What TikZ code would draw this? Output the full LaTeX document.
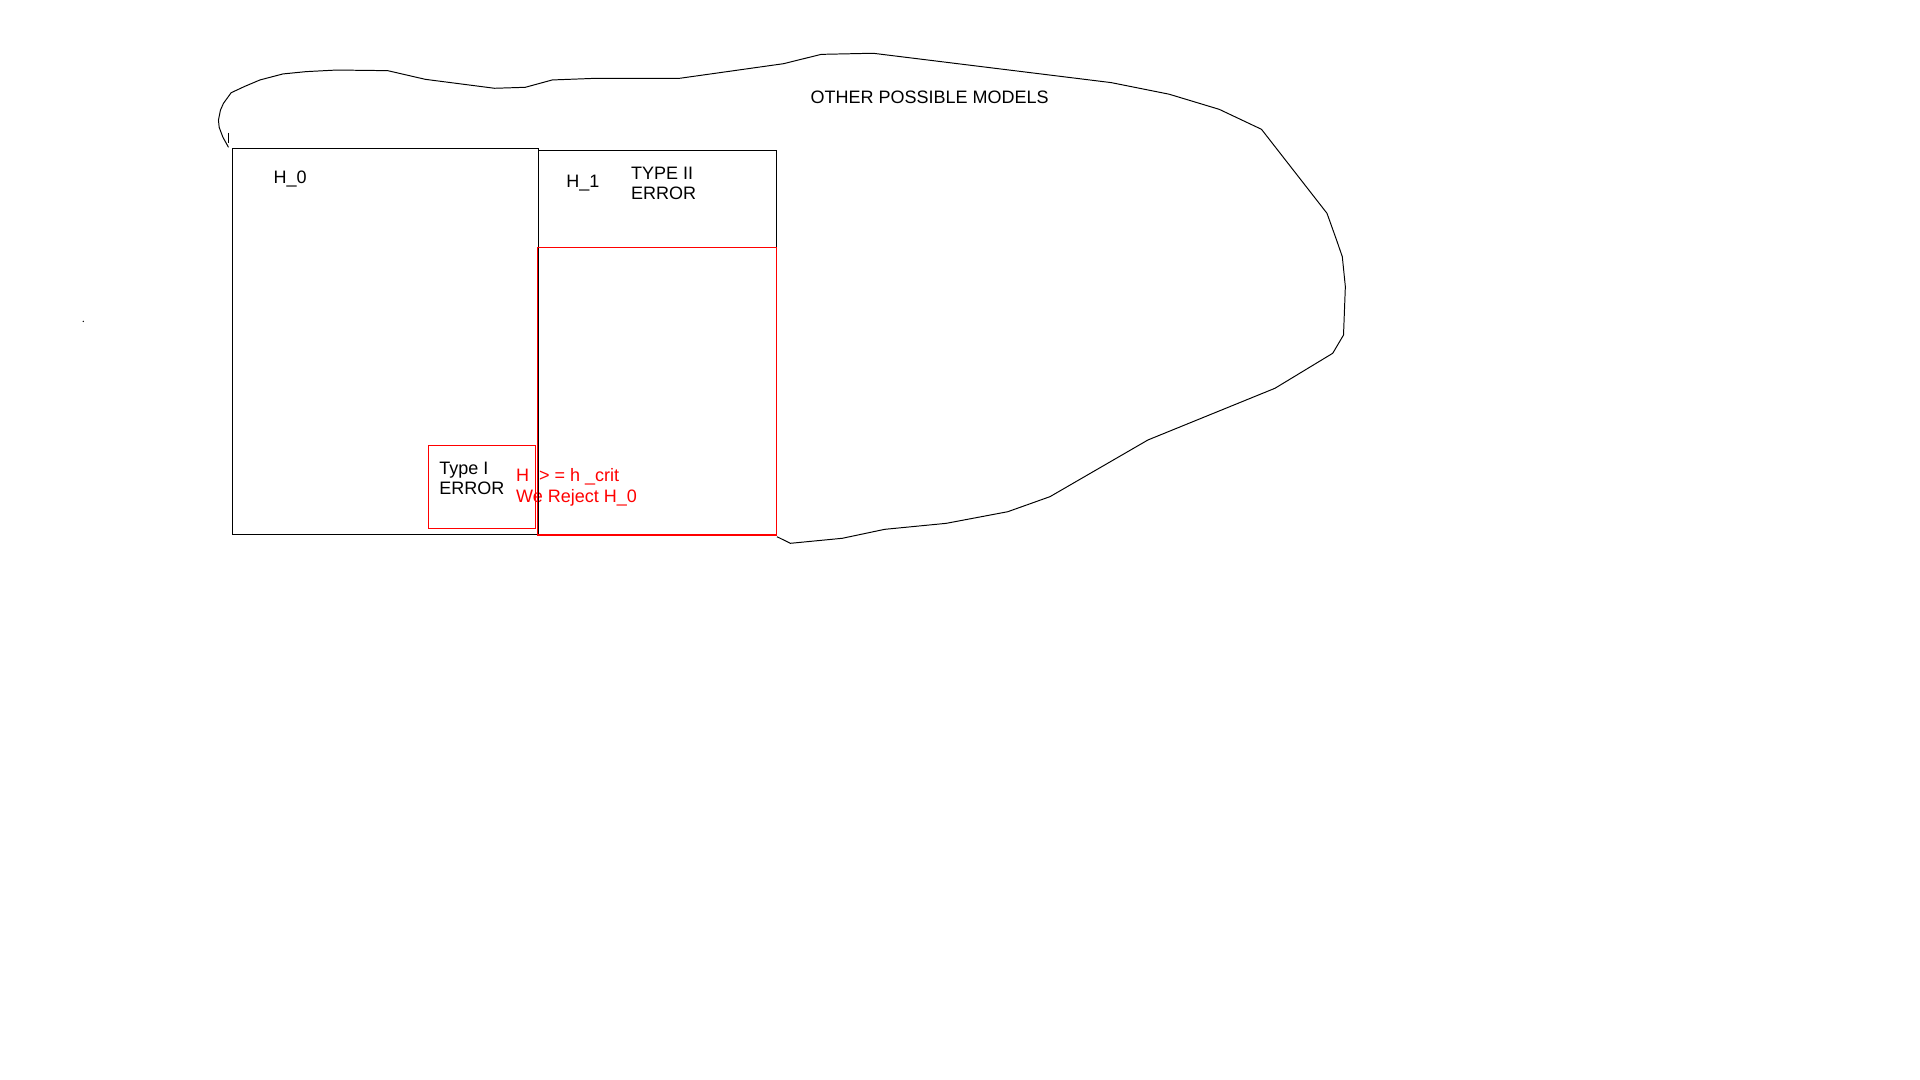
\documentclass[tikz,border=0pt]{standalone}
\usepackage{fontspec}
\setmainfont{Liberation Sans}
\begin{document}
\begin{tikzpicture}[x=1pt,y=-1pt,
  box/.style={draw=black, line width=0.9pt, inner sep=0pt, outer sep=0pt, anchor=north west},
  redbox/.style={draw=red, line width=0.9pt, inner sep=0pt, outer sep=0pt, anchor=north west},
  lbl/.style={inner sep=0pt, outer sep=0pt, anchor=base west, align=left, font=\fontsize{14.7}{17}\selectfont},
  redlbl/.style={lbl, text=red},
  blob/.style={draw=black, line width=0.8pt, line join=round}]
\useasboundingbox[fill=white] (0,0) rectangle (1568,882);

% texts (multi-line nodes: base = last line)
\node[lbl] (t0) at (223.5,149.6) {H\_0};
\node[lbl] (t1) at (462.5,153) {H\_1};
\node[lbl] (t2) at (515.5,163.3) {TYPE II\\ERROR};
\node[lbl] (t3) at (358.8,404.2) {Type I\\ERROR};
\node[redlbl] (t4) at (421.5,410.5) {H\ \ > = h \_crit\\We Reject H\_0};
\node[lbl] (t5) at (662,84.3) {OTHER POSSIBLE MODELS};

% boxes
\node[box, minimum width=249.5pt, minimum height=315.5pt] (h0) at (190,121) {};
\node[box, minimum width=194pt, minimum height=314pt] (h1) at (440,123) {};
\node[redbox, minimum width=195pt, minimum height=235pt] (rej) at (439,202) {};
\draw[red, line width=2pt] (rej.south west) -- (rej.south east);
\node[redbox, minimum width=87pt, minimum height=68pt] (err1) at (350,363.5) {};

% outline of other models
\draw[blob] (186.6,120.3) -- (182,112) -- (179,104) -- (178.4,98) -- (180,90) -- (182.5,84.4)
  -- (188.8,75.7) -- (200,70.5) -- (212.3,65.3) -- (231,60.4) -- (250,58.5) -- (275,57.2)
  -- (316.6,57.7) -- (347.4,64.8) -- (403.9,72.1) -- (429,71.3) -- (451,65.3) -- (485.6,64)
  -- (554.7,64) -- (640,52) -- (670.6,44.4) -- (713,43.5) -- (907.7,67.5) -- (955,77)
  -- (995.7,89.3) -- (1030.2,105.6) -- (1083.7,174.2) -- (1091.5,196) -- (1096.2,209.6)
  -- (1098.7,234.1) -- (1097.2,273.6) -- (1088.4,288.5) -- (1041.2,317.1) -- (937.5,359.3)
  -- (857.5,405.6) -- (823,417.9) -- (772.7,427.4) -- (722.4,432.3) -- (687.9,439.6)
  -- (645.5,443.7) -- (634.5,438.3);
\draw[blob] (186.5,108.4) -- (186.5,117);
\fill (68,262.5) circle (0.6);
\end{tikzpicture}
\end{document}
